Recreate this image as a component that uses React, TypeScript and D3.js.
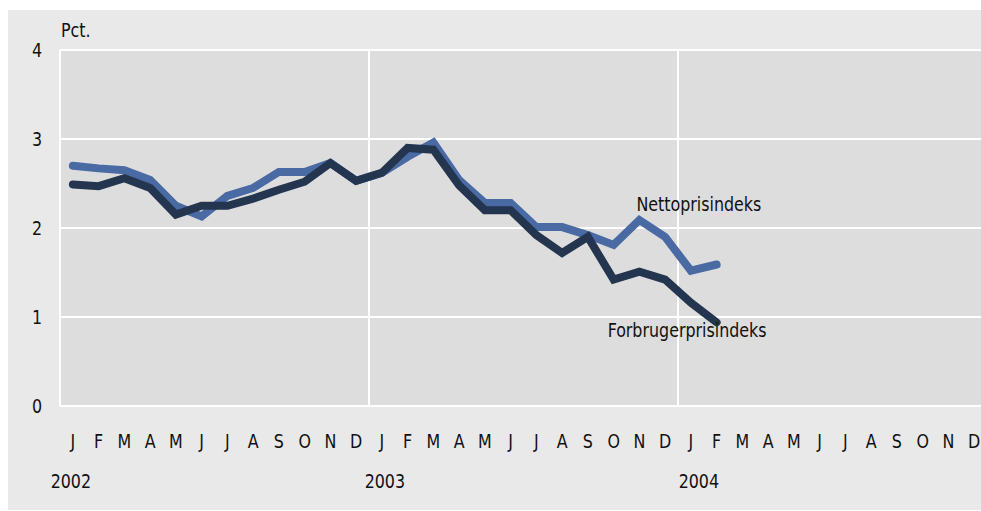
import React from 'react';
import * as d3 from 'd3';

const monthLetters = ['J', 'F', 'M', 'A', 'M', 'J', 'J', 'A', 'S', 'O', 'N', 'D'];
const years = ['2002', '2003', '2004'];
const yTicks = [0, 1, 2, 3, 4];

// Jan 2002 .. Feb 2004
const netto = [2.70, 2.67, 2.65, 2.54, 2.25, 2.13, 2.36, 2.45, 2.63, 2.63, 2.73, 2.53,
  2.62, 2.80, 2.96, 2.54, 2.28, 2.28, 2.01, 2.01, 1.92, 1.81, 2.09, 1.90, 1.52, 1.59];
const forbruger = [2.49, 2.47, 2.56, 2.45, 2.15, 2.25, 2.25, 2.33, 2.43, 2.52, 2.73, 2.53,
  2.62, 2.90, 2.88, 2.48, 2.20, 2.20, 1.92, 1.72, 1.90, 1.42, 1.51, 1.42, 1.16, 0.94];

const settings = {
  width: 981,
  height: 511,
  left: 60,
  top: 50,
  bottom: 406,
  yearWidth: 309
};

const font = "'DejaVu Sans Condensed', 'Liberation Sans Narrow', sans-serif";

// condensed-looking label: squeeze the glyphs a little sideways
function Label({ x, y, anchor = 'start', dy, children }: any) {
  return (
    <text transform={`translate(${x},${y}) scale(0.93,1)`} dy={dy} textAnchor={anchor}
      fontSize={19} fill="#111">{children}</text>
  );
}

export default function App() {
  const { width, height, left, top, bottom, yearWidth } = settings;
  const months = d3.range(years.length * 12);

  const x = d3.scaleBand<number>()
    .domain(months)
    .range([left, left + yearWidth * years.length])
    .padding(0);
  const y = d3.scaleLinear().domain([0, 4]).range([bottom, top]);
  const cx = (i: number) => (x(i) as number) + x.bandwidth() / 2;

  const line = d3.line<number>()
    .x((d, i) => cx(i))
    .y(d => y(d));

  const right = left + yearWidth * years.length;

  return (
    <div style={{ position: 'absolute', left: 0, top: 0 }}>
      <svg width={width} height={height} style={{ display: 'block' }} fontFamily={font}>
        <rect x={8} y={10} width={width - 8} height={height - 11} fill="#e9e9e9" />
        <rect x={left} y={top} width={right - left} height={bottom - top} fill="#dddddd" />

        {yTicks.map(t => (
          <g key={t}>
            <line x1={left} x2={right} y1={y(t)} y2={y(t)} stroke="#fff" strokeWidth={2} />
            <Label x={42} y={y(t)} dy="0.35em" anchor="end">{t}</Label>
          </g>
        ))}
        {years.map((yr, k) => (
          <line key={yr} x1={x(k * 12)} x2={x(k * 12)} y1={top} y2={bottom} stroke="#fff" strokeWidth={2} />
        ))}
        <line x1={right} x2={right} y1={top} y2={bottom} stroke="#fff" strokeWidth={2} />

        <Label x={61} y={37}>Pct.</Label>

        {months.map(i => (
          <Label key={i} x={cx(i)} y={448} anchor="middle">{monthLetters[i % 12]}</Label>
        ))}
        {years.map((yr, k) => (
          <Label key={yr} x={cx(k * 12) - 2 + k * 5} y={488} anchor="middle">{yr}</Label>
        ))}

        <path d={line(netto) || ''} fill="none" stroke="#4a6aa4" strokeWidth={8}
          strokeLinecap="round" strokeLinejoin="miter" />
        <path d={line(forbruger) || ''} fill="none" stroke="#24354f" strokeWidth={8}
          strokeLinecap="round" strokeLinejoin="miter" />

        <Label x={cx(22) - 3} y={y(2.19)}>Nettoprisindeks</Label>
        <Label x={cx(21) - 6} y={y(0.77)}>Forbrugerprisindeks</Label>
      </svg>
    </div>
  );
}
